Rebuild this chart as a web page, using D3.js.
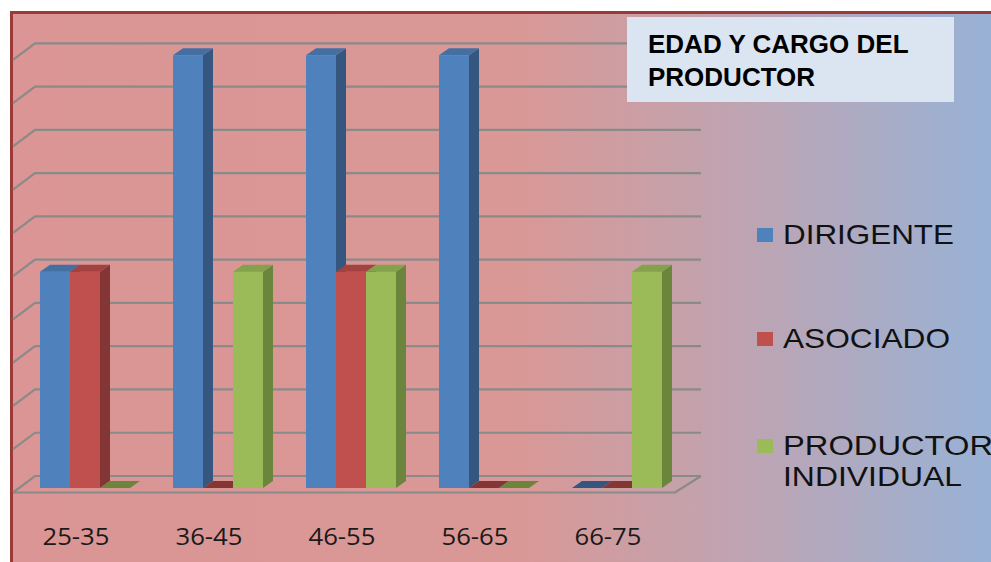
<!DOCTYPE html>
<html>
<head>
<meta charset="utf-8">
<script src="https://cdn.jsdelivr.net/npm/d3@7/dist/d3.min.js"></script>
<style>
  html, body { margin: 0; padding: 0; background: #ffffff; }
  svg { display: block; }
</style>
</head>
<body>
<svg id="chart" width="991" height="562"></svg>
<script>
// ---- data ----
const categories = ["25-35", "36-45", "46-55", "56-65", "66-75"];
const seriesNames = ["DIRIGENTE", "ASOCIADO", "PRODUCTOR INDIVIDUAL"];
const dirigente = [1, 2, 2, 2, 0];
const asociado = [1, 0, 1, 0, 0];
const productorIndividual = [0, 1, 1, 0, 1];
const titleLines = ["EDAD Y CARGO DEL", "PRODUCTOR"];
const legendLines = [["DIRIGENTE"], ["ASOCIADO"], ["PRODUCTOR", "INDIVIDUAL"]];
const yMax = 2;
const gridCount = 10;

// ---- styles ----
const front = ["#4f81bd", "#c0504d", "#9bbb59"];
const side  = ["#34567f", "#843634", "#6c853c"];
const top_  = ["#436fa3", "#a34341", "#84a14b"];

const seriesValues = [dirigente, asociado, productorIndividual];

const svg = d3.select("#chart");
const W = 991, H = 562;

// background gradient
const defs = svg.append("defs");
const grad = defs.append("linearGradient").attr("id", "bg").attr("x1", "0").attr("x2", "1").attr("y1", "0").attr("y2", "0");
grad.append("stop").attr("offset", "0%").attr("stop-color", "#da9594");
grad.append("stop").attr("offset", "52%").attr("stop-color", "#d99896");
grad.append("stop").attr("offset", "75%").attr("stop-color", "#bea4b2");
grad.append("stop").attr("offset", "100%").attr("stop-color", "#98b2d6");

svg.append("rect").attr("x", 10).attr("y", 11).attr("width", W - 10).attr("height", H - 11).attr("fill", "url(#bg)");
// border
svg.append("line").attr("x1", 10).attr("x2", W).attr("y1", 12.5).attr("y2", 12.5).attr("stroke", "#9c3a3a").attr("stroke-width", 3);
svg.append("line").attr("x1", 11.5).attr("x2", 11.5).attr("y1", 11).attr("y2", H).attr("stroke", "#9c3a3a").attr("stroke-width", 3);

// ---- scales ----
const baseY = 488;            // bar plane baseline
const x0 = d3.scaleBand().domain(categories).range([18.5, 683.5]).paddingInner(0).paddingOuter(0);
const barW = 30;
const x1 = d3.scaleBand().domain(seriesNames).range([0, barW * 3]);
const groupOffset = (x0.bandwidth() - barW * 3) / 2;
const y = d3.scaleLinear().domain([0, yMax]).range([baseY, 55.3]);

// 3D offsets
const backDy = -12;           // back wall relative to bar plane
const wallDx = 22, wallDy = 16.5;   // side wall depth (back -> front)
const backLeft = 35, backRight = 701;
const barDx = 10, barDy = -7;

// gridlines
const gridG = svg.append("g").attr("stroke", "#8a8a8a").attr("stroke-width", 2.2).attr("fill", "none");
const ticks = y.ticks(gridCount);
ticks.forEach(t => {
  const yb = y(t) + backDy;
  gridG.append("path").attr("d", `M${backLeft - wallDx},${yb + wallDy} L${backLeft},${yb} L${backRight},${yb}`);
});
// floor front and right edge
const yb0 = y(0) + backDy;
gridG.append("path").attr("d", `M${backLeft - wallDx},${yb0 + wallDy} L${backRight - wallDx - 4},${yb0 + wallDy} L${backRight},${yb0}`);

// bars
const barsG = svg.append("g");
categories.forEach((cat, ci) => {
  seriesNames.forEach((s, si) => {
    const v = seriesValues[si][ci];
    const bx = x0(cat) + groupOffset + x1(s);
    const ty = y(v);
    const g = barsG.append("g");
    if (v > 0) {
      g.append("rect").attr("x", bx).attr("y", ty).attr("width", barW).attr("height", baseY - ty).attr("fill", front[si]);
      g.append("path").attr("d", `M${bx + barW},${ty} L${bx + barW + barDx},${ty + barDy} L${bx + barW + barDx},${baseY + barDy} L${bx + barW},${baseY}Z`).attr("fill", side[si]);
    }
    g.append("path").attr("d", `M${bx},${ty} L${bx + barW},${ty} L${bx + barW + barDx},${ty + barDy} L${bx + barDx},${ty + barDy}Z`).attr("fill", v > 0 ? top_[si] : side[si]);
  });
});

// category labels
svg.append("g").selectAll("text").data(categories).join("text")
  .attr("x", d => x0(d) + x0.bandwidth() / 2 - 9)
  .attr("y", 545)
  .attr("text-anchor", "middle")
  .attr("font-family", "'Open Sans', sans-serif")
  .attr("font-size", 24)
  .attr("fill", "#1a1a1a")
  .attr("textLength", 67)
  .attr("lengthAdjust", "spacingAndGlyphs")
  .text(d => d);

// title box
svg.append("rect").attr("x", 627).attr("y", 17).attr("width", 327).attr("height", 85).attr("fill", "#dbe5f1");
svg.append("g").selectAll("text").data(titleLines).join("text")
  .attr("x", 648).attr("y", (d, i) => 53 + i * 33)
  .attr("font-family", "'Liberation Sans', Arial, sans-serif")
  .attr("font-weight", "bold").attr("font-size", 26).attr("fill", "#000")
  .text(d => d);

// legend
const legendY = [244, 348, 455];
const legendLen = [[171], [167], [210, 179]];
const lg = svg.append("g");
seriesNames.forEach((s, i) => {
  lg.append("rect").attr("x", 757).attr("y", legendY[i] - 16).attr("width", 16).attr("height", 14).attr("fill", front[i]);
  legendLines[i].forEach((line, j) => {
    lg.append("text").attr("x", 783).attr("y", legendY[i] + j * 31)
      .attr("font-family", "'Liberation Sans', Arial, sans-serif")
      .attr("font-size", 28).attr("fill", "#111")
      .attr("textLength", legendLen[i][j]).attr("lengthAdjust", "spacingAndGlyphs")
      .text(line);
  });
});
</script>
</body>
</html>
